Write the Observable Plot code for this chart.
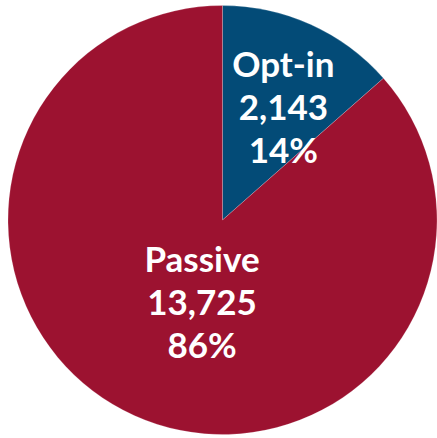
<!DOCTYPE html>
<html>
<head>
<meta charset="utf-8">
<script src="https://cdn.jsdelivr.net/npm/d3@7"></script>
<script src="https://cdn.jsdelivr.net/npm/@observablehq/plot@0.6"></script>
<style>
  html, body { margin: 0; padding: 0; background: #fff; }
</style>
</head>
<body>
<div id="chart"></div>
<script>
// ---- data ----
const categories = ["Opt-in", "Passive"];
const counts = [2143, 13725];
const percentLabels = ["14%", "86%"];

// ---- styles ----
const sliceColors = ["#034b77", "#9c1230"];
const labelRadius = [0.57, 0.43];   // fraction of pie radius
const labelDx = [10, 17];
const labelDy = [-3, -3];

const rows = categories.map((c, i) => ({ category: c, count: counts[i], pct: percentLabels[i], color: sliceColors[i] }));
const arcs = d3.pie().sort(null).value(d => d.count)(rows);
arcs.forEach((a, i) => { a.mid = (a.startAngle + a.endAngle) / 2; a.lr = labelRadius[i]; });

const fmt = d3.format(",");

function pieMark(index, scales) {
  const cx = scales.x(0), cy = scales.y(0);
  const r = scales.x(1) - scales.x(0);
  const arc = d3.arc().innerRadius(0).outerRadius(r);
  const g = d3.create("svg:g").attr("transform", `translate(${cx},${cy})`);
  g.selectAll("path").data(arcs).join("path")
    .attr("d", arc)
    .attr("fill", d => d.data.color)
    .attr("stroke", "rgba(255,255,255,0.25)")
    .attr("stroke-width", 0.75);
  return g.node();
}

const textMarks = arcs.map((a, i) => Plot.text([a], {
  x: d => Math.sin(d.mid) * d.lr,
  y: d => Math.cos(d.mid) * d.lr,
  text: d => `${d.data.category}\n${fmt(d.data.count)}\n${d.data.pct}`,
  dx: labelDx[i],
  dy: labelDy[i],
  fill: "white",
  fontSize: 35,
  fontWeight: "bold",
  fontFamily: "Lato, 'Open Sans', sans-serif",
  lineHeight: 1.23,
  lineAnchor: "middle",
  textAnchor: "middle"
}));

const chart = Plot.plot({
  width: 437,
  height: 438,
  marginLeft: 8,
  marginRight: 0,
  marginTop: 5.5,
  marginBottom: 3.5,
  x: { domain: [-1, 1], axis: null },
  y: { domain: [-1, 1], axis: null },
  style: { background: "white", overflow: "visible" },
  marks: [pieMark, ...textMarks]
});
document.getElementById("chart").appendChild(chart);
</script>
</body>
</html>
